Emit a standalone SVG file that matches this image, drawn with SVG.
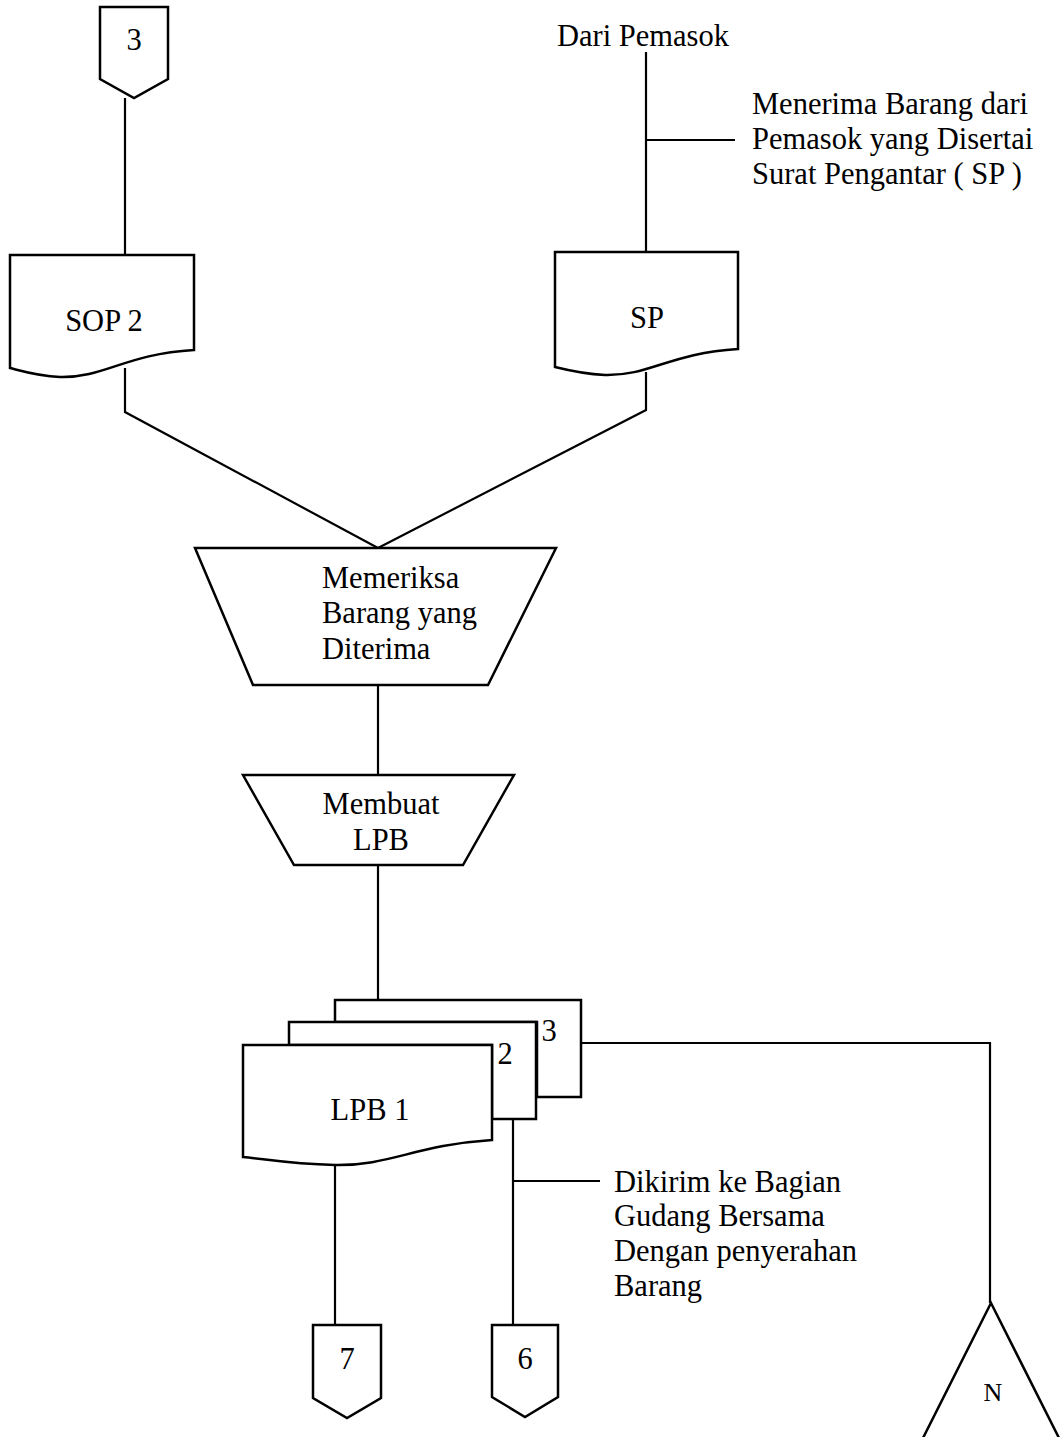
<svg xmlns="http://www.w3.org/2000/svg" width="1061" height="1437" viewBox="0 0 1061 1437">
  <style>
    .shape { fill: #fff; stroke: #000; stroke-width: 2.5; stroke-linejoin: miter; }
    .line { fill: none; stroke: #000; stroke-width: 2.2; }
    text { font-family: "Liberation Serif", "Times New Roman", serif; font-size: 30.5px; fill: #000; }
    .c { text-anchor: middle; }
  </style>

  <rect width="1061" height="1437" fill="#fff"/>

  <!-- connectors -->
  <g id="connectors">
    <polyline class="line" points="125,98 125,255"/>
    <polyline class="line" points="646,52 646,252"/>
    <polyline class="line" points="646,140 735,140"/>
    <polyline class="line" points="125,368 125,412 378,548"/>
    <polyline class="line" points="646,372 646,410 378,548"/>
    <polyline class="line" points="378,685 378,775"/>
    <polyline class="line" points="378,865 378,1000"/>
    <polyline class="line" points="582,1043 990,1043 990,1303"/>
    <polyline class="line" points="335,1163 335,1325"/>
    <polyline class="line" points="513,1119 513,1325"/>
    <polyline class="line" points="513,1181 600,1181"/>
  </g>

  <!-- off-page connector 3 -->
  <g id="conn-3">
    <polygon class="shape" points="100,7 168,7 168,79 134,98 100,79"/>
    <text class="c" x="134" y="50">3</text>
  </g>

  <!-- source label -->
  <g id="dari-pemasok">
    <text x="557" y="46">Dari Pemasok</text>
  </g>

  <g id="note-terima">
    <text x="752" y="114">Menerima Barang dari</text>
    <text x="752" y="149">Pemasok yang Disertai</text>
    <text x="752" y="184">Surat Pengantar ( SP )</text>
  </g>

  <!-- document SOP 2 -->
  <g id="doc-sop2">
    <path class="shape" d="M10,255 H194 V350 C125,354 105,378 60,377 C38,376 22,371 10,368 Z"/>
    <text class="c" x="104" y="331">SOP 2</text>
  </g>

  <!-- document SP -->
  <g id="doc-sp">
    <path class="shape" d="M555,252 H738 V349 C670,353 650,376 605,375 C583,374 567,370 555,367 Z"/>
    <text class="c" x="647" y="328">SP</text>
  </g>

  <!-- manual operation: check goods -->
  <g id="op-memeriksa">
    <polygon class="shape" points="195,548 556,548 488,685 253,685"/>
    <text x="322" y="588">Memeriksa</text>
    <text x="322" y="623">Barang yang</text>
    <text x="322" y="659">Diterima</text>
  </g>

  <!-- manual operation: make LPB -->
  <g id="op-membuat">
    <polygon class="shape" points="243,775 514,775 463,865 294,865"/>
    <text class="c" x="381" y="814">Membuat</text>
    <text class="c" x="381" y="850">LPB</text>
  </g>

  <!-- LPB copies 3, 2, 1 -->
  <g id="doc-lpb3">
    <path class="shape" d="M335,1000 H581 V1097 H537 V1022 H335 Z"/>
    <text class="c" x="549" y="1041">3</text>
  </g>
  <g id="doc-lpb2">
    <path class="shape" d="M289,1022 H536 V1119 H492 V1045 H289 Z"/>
    <text class="c" x="505" y="1064">2</text>
  </g>
  <g id="doc-lpb1">
    <path class="shape" d="M243,1045 H492 V1140 C415,1145 390,1166 335,1165 C290,1164 265,1159 243,1157 Z"/>
    <text class="c" x="370" y="1120">LPB 1</text>
  </g>

  <g id="note-kirim">
    <text x="614" y="1192">Dikirim ke Bagian</text>
    <text x="614" y="1226">Gudang Bersama</text>
    <text x="614" y="1261">Dengan penyerahan</text>
    <text x="614" y="1296">Barang</text>
  </g>

  <!-- off-page connector 7 -->
  <g id="conn-7">
    <polygon class="shape" points="313,1325 381,1325 381,1398 347,1418 313,1398"/>
    <text class="c" x="347" y="1369">7</text>
  </g>

  <!-- off-page connector 6 -->
  <g id="conn-6">
    <polygon class="shape" points="492,1325 558,1325 558,1397 525,1417 492,1397"/>
    <text class="c" x="525" y="1369">6</text>
  </g>

  <!-- file N -->
  <g id="file-n">
    <polygon class="shape" points="991,1303 1060,1440 922,1440"/>
    <text class="c" x="993" y="1401" style="font-size:26px">N</text>
  </g>
</svg>
